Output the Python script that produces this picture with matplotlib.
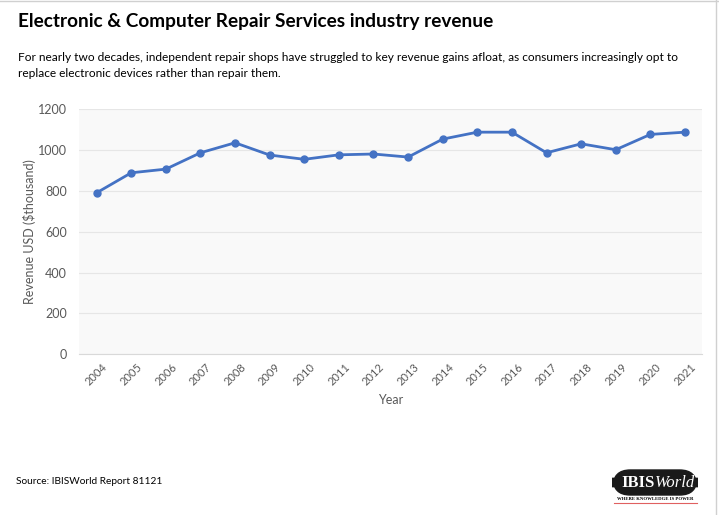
import matplotlib
matplotlib.use("Agg")
import matplotlib.pyplot as plt
from matplotlib.patches import FancyBboxPatch

years = ["2004", "2005", "2006", "2007", "2008", "2009", "2010", "2011", "2012",
         "2013", "2014", "2015", "2016", "2017", "2018", "2019", "2020", "2021"]
revenue = [791, 889, 907, 987, 1036, 976, 955, 977, 981,
           966, 1054, 1088, 1088, 987, 1031, 1002, 1077, 1088]
yticks = [0, 200, 400, 600, 800, 1000, 1200]

title = "Electronic & Computer Repair Services industry revenue"
subtitle = ("For nearly two decades, independent repair shops have struggled to key revenue gains afloat, as consumers increasingly opt to\n"
            "replace electronic devices rather than repair them.")
source = "Source: IBISWorld Report 81121"

W, H = 719, 515
fig = plt.figure(figsize=(W / 100, H / 100), dpi=100)
fig.patch.set_facecolor("white")

def fx(px):
    return px / W

def fy(py):
    return 1 - py / H

left, right, top, bottom = 79.3, 702.3, 109.3, 354.3
ax = fig.add_axes([fx(left), fy(bottom), fx(right) - fx(left), (bottom - top) / H])
ax.set_facecolor("#f9f9f9")

x = list(range(len(years)))
ax.plot(x, revenue, color="#4472c4", lw=2, marker="o", ms=5, zorder=3)
ax.set_xlim(-0.5, len(years) - 0.5)
ax.set_ylim(0, 1200)
ax.set_yticks(yticks)
ax.set_yticklabels([str(v) for v in yticks])
ax.set_xticks(x)
ax.set_xticklabels(years, rotation=45, ha="center", va="top", rotation_mode="default")
ax.grid(axis="y", color="#e6e6e6", lw=0.8)
ax.set_axisbelow(True)
for s in ["top", "right", "left"]:
    ax.spines[s].set_visible(False)
ax.spines["bottom"].set_color("#d9d9d9")
ax.tick_params(axis="both", length=0, colors="#595959")
ax.tick_params(axis="y", pad=9, labelsize=9)
ax.tick_params(axis="x", pad=5, labelsize=8)
for lab in ax.get_xticklabels() + ax.get_yticklabels():
    lab.set_fontfamily("Lato")
ax.set_ylabel("Revenue USD ($thousand)", fontfamily="Lato", fontsize=9, color="#595959", labelpad=1)
ax.set_xlabel("Year", fontfamily="Lato", fontsize=9, color="#595959", labelpad=5)

fig.text(fx(18), fy(22), title, fontfamily="Lato", fontweight="bold", fontsize=13.7,
         va="center", ha="left", color="black")
fig.text(fx(18), fy(52), subtitle, fontfamily="Lato", fontsize=8.6, va="top", ha="left",
         color="black", linespacing=1.55)
fig.text(fx(16), fy(481), source, fontfamily="Lato", fontsize=7.3, va="center", ha="left",
         color="black")

# logo
logo = FancyBboxPatch((fx(613), fy(495)), fx(697) - fx(613), (495 - 470) / H,
                      boxstyle="round,pad=0,rounding_size=0.024", transform=fig.transFigure,
                      facecolor="#1a1a1a", edgecolor="#1a1a1a", mutation_aspect=W / H)
fig.patches.append(logo)
fig.text(fx(655), fy(483), "IBIS", fontfamily="Liberation Serif", fontweight="bold",
         fontsize=12, color="white", ha="right", va="center")
fig.text(fx(655), fy(483), "World", fontfamily="Liberation Serif", fontstyle="italic",
         fontsize=12, color="white", ha="left", va="center")
fig.text(fx(655), fy(499), "WHERE KNOWLEDGE IS POWER", fontfamily="Liberation Serif",
         fontsize=3.4, color="black", ha="center", va="center", fontweight="bold")
fig.add_artist(plt.Line2D([fx(614), fx(697)], [fy(502.5), fy(502.5)], transform=fig.transFigure,
                          color="#e06060", lw=0.8))

# spreadsheet-like borders
fig.add_artist(plt.Line2D([0, 1], [fy(1), fy(1)], transform=fig.transFigure, color="#d0d0d0", lw=1))
fig.add_artist(plt.Line2D([fx(716), fx(716)], [0, 1], transform=fig.transFigure, color="#d0d0d0", lw=1))

fig.savefig("out.png", dpi=100, facecolor="white")
